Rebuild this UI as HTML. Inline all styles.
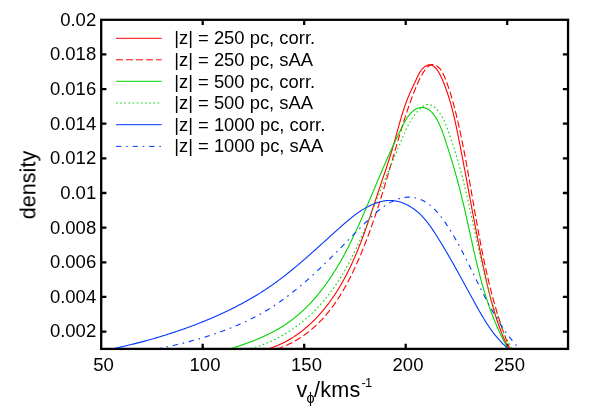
<!DOCTYPE html>
<html lang="en"><head><meta charset="utf-8"><title>density vs v_phi</title>
<style>html,body{margin:0;padding:0;background:#fff;}svg{display:block;}text{font-family:"Liberation Sans","DejaVu Sans",sans-serif;fill:#000;}</style></head><body>
<svg width="598" height="419" viewBox="0 0 598 419">
<rect width="598" height="419" fill="#fff"/>
<g stroke="#000" stroke-width="2.3" fill="none" stroke-linecap="butt">
<rect x="101.2" y="19.8" width="466.85" height="329.10" stroke-width="2.3"/>
<path d="M202.7,348.9 v-5.2 M202.7,19.8 v5.2 M304.2,348.9 v-5.2 M304.2,19.8 v5.2 M405.7,348.9 v-5.2 M405.7,19.8 v5.2 M507.2,348.9 v-5.2 M507.2,19.8 v5.2 M101.2,331.6 h5.2 M568.05,331.6 h-5.2 M101.2,296.9 h5.2 M568.05,296.9 h-5.2 M101.2,262.3 h5.2 M568.05,262.3 h-5.2 M101.2,227.7 h5.2 M568.05,227.7 h-5.2 M101.2,193.0 h5.2 M568.05,193.0 h-5.2 M101.2,158.4 h5.2 M568.05,158.4 h-5.2 M101.2,123.7 h5.2 M568.05,123.7 h-5.2 M101.2,89.1 h5.2 M568.05,89.1 h-5.2 M101.2,54.4 h5.2 M568.05,54.4 h-5.2"/>
</g>
<clipPath id="plotclip"><rect x="101.2" y="19.8" width="466.85" height="328.30"/></clipPath>
<g fill="none" stroke-width="1.1" stroke-linejoin="round" clip-path="url(#plotclip)">
<path d="M267.50,349.00 L268.47,348.71 L269.44,348.41 L270.40,348.10 L271.36,347.79 L272.32,347.46 L273.27,347.12 L274.21,346.78 L275.15,346.42 L276.09,346.05 L277.02,345.68 L277.94,345.29 L278.86,344.90 L279.78,344.49 L280.69,344.08 L281.59,343.66 L282.49,343.23 L283.39,342.79 L284.28,342.34 L285.17,341.89 L286.05,341.42 L286.92,340.95 L287.80,340.47 L288.66,339.98 L289.52,339.48 L290.38,338.97 L291.23,338.46 L292.08,337.93 L292.92,337.40 L293.76,336.87 L294.59,336.32 L295.42,335.77 L296.24,335.21 L297.06,334.64 L297.88,334.06 L298.69,333.48 L299.49,332.89 L300.29,332.30 L301.08,331.70 L301.87,331.09 L302.66,330.47 L303.44,329.85 L304.21,329.22 L304.98,328.58 L305.74,327.94 L306.50,327.29 L307.26,326.64 L308.01,325.98 L308.76,325.31 L309.50,324.64 L310.23,323.96 L310.96,323.28 L311.69,322.59 L312.41,321.89 L313.13,321.19 L313.84,320.49 L314.55,319.78 L315.25,319.06 L315.95,318.34 L316.64,317.62 L317.33,316.89 L318.01,316.15 L318.69,315.41 L319.36,314.67 L320.03,313.92 L320.70,313.17 L321.35,312.41 L322.01,311.65 L322.66,310.88 L323.30,310.11 L323.94,309.34 L324.58,308.56 L325.21,307.78 L325.83,307.00 L326.45,306.21 L327.07,305.42 L327.68,304.62 L328.28,303.83 L328.88,303.03 L329.48,302.22 L330.07,301.41 L330.66,300.60 L331.24,299.79 L331.82,298.98 L332.39,298.16 L332.96,297.34 L333.52,296.51 L334.08,295.69 L334.63,294.86 L335.18,294.03 L335.73,293.19 L336.27,292.36 L336.80,291.52 L337.34,290.68 L337.86,289.83 L338.39,288.99 L338.91,288.14 L339.42,287.29 L339.93,286.43 L340.44,285.58 L340.94,284.72 L341.44,283.86 L341.94,283.00 L342.43,282.13 L342.91,281.27 L343.40,280.40 L343.88,279.53 L344.35,278.65 L344.82,277.78 L345.29,276.90 L345.76,276.02 L346.22,275.14 L346.68,274.26 L347.13,273.37 L347.58,272.49 L348.03,271.60 L348.47,270.71 L348.91,269.81 L349.35,268.92 L349.79,268.02 L350.22,267.13 L350.64,266.23 L351.07,265.32 L351.49,264.42 L351.91,263.52 L352.33,262.61 L352.74,261.70 L353.15,260.79 L353.56,259.88 L353.96,258.97 L354.36,258.06 L354.76,257.14 L355.16,256.23 L355.55,255.31 L355.94,254.39 L356.33,253.47 L356.72,252.55 L357.10,251.62 L357.48,250.70 L357.86,249.77 L358.24,248.85 L358.61,247.92 L358.98,246.99 L359.35,246.06 L359.72,245.13 L360.09,244.20 L360.45,243.26 L360.81,242.33 L361.17,241.39 L361.53,240.46 L361.88,239.52 L362.24,238.58 L362.59,237.64 L362.94,236.70 L363.29,235.76 L363.64,234.82 L363.98,233.88 L364.32,232.94 L364.67,231.99 L365.01,231.05 L365.35,230.10 L365.68,229.16 L366.02,228.21 L366.35,227.26 L366.69,226.32 L367.02,225.37 L367.35,224.42 L367.68,223.47 L368.01,222.52 L368.34,221.58 L368.67,220.63 L368.99,219.68 L369.32,218.73 L369.64,217.77 L369.96,216.82 L370.29,215.87 L370.61,214.92 L370.93,213.97 L371.25,213.02 L371.57,212.07 L371.89,211.11 L372.20,210.16 L372.52,209.21 L372.84,208.26 L373.16,207.31 L373.47,206.35 L373.79,205.40 L374.10,204.45 L374.42,203.50 L374.73,202.55 L375.05,201.60 L375.36,200.64 L375.68,199.69 L375.99,198.74 L376.31,197.79 L376.62,196.84 L376.94,195.89 L377.25,194.94 L377.57,194.00 L377.88,193.05 L378.20,192.10 L378.51,191.15 L378.83,190.20 L379.15,189.26 L379.46,188.31 L379.78,187.37 L380.10,186.42 L380.42,185.48 L380.74,184.53 L381.05,183.59 L381.37,182.65 L381.69,181.70 L382.01,180.76 L382.33,179.82 L382.65,178.88 L382.97,177.94 L383.29,177.00 L383.61,176.05 L383.93,175.11 L384.24,174.17 L384.56,173.23 L384.88,172.29 L385.20,171.35 L385.51,170.41 L385.83,169.46 L386.14,168.52 L386.46,167.58 L386.77,166.64 L387.08,165.69 L387.39,164.75 L387.70,163.81 L388.01,162.86 L388.32,161.92 L388.63,160.97 L388.93,160.02 L389.23,159.08 L389.54,158.13 L389.84,157.18 L390.14,156.23 L390.44,155.28 L390.73,154.33 L391.03,153.38 L391.32,152.42 L391.61,151.47 L391.90,150.51 L392.19,149.56 L392.47,148.60 L392.76,147.64 L393.04,146.68 L393.32,145.72 L393.59,144.75 L393.87,143.79 L394.14,142.83 L394.41,141.86 L394.68,140.89 L394.95,139.92 L395.22,138.96 L395.49,137.99 L395.75,137.02 L396.02,136.05 L396.28,135.08 L396.55,134.11 L396.81,133.13 L397.08,132.16 L397.34,131.19 L397.61,130.22 L397.87,129.25 L398.14,128.28 L398.41,127.31 L398.67,126.34 L398.94,125.37 L399.21,124.40 L399.48,123.43 L399.76,122.46 L400.03,121.50 L400.31,120.53 L400.59,119.57 L400.87,118.60 L401.15,117.64 L401.44,116.68 L401.72,115.72 L402.02,114.76 L402.31,113.80 L402.61,112.85 L402.91,111.90 L403.21,110.94 L403.52,109.99 L403.83,109.05 L404.14,108.10 L404.46,107.16 L404.79,106.21 L405.11,105.28 L405.45,104.34 L405.78,103.40 L406.12,102.47 L406.47,101.54 L406.82,100.62 L407.18,99.69 L407.54,98.77 L407.91,97.85 L408.28,96.94 L408.66,96.03 L409.05,95.12 L409.44,94.21 L409.83,93.31 L410.23,92.40 L410.64,91.50 L411.04,90.60 L411.46,89.70 L411.87,88.80 L412.29,87.90 L412.71,87.00 L413.13,86.10 L413.55,85.20 L413.98,84.29 L414.40,83.39 L414.83,82.48 L415.26,81.57 L415.68,80.66 L416.11,79.74 L416.54,78.82 L416.96,77.89 L417.39,76.97 L417.83,76.05 L418.28,75.14 L418.75,74.24 L419.23,73.35 L419.74,72.48 L420.28,71.63 L420.84,70.80 L421.44,70.01 L422.07,69.24 L422.75,68.50 L423.47,67.81 L424.25,67.15 L425.07,66.54 L425.95,65.98 L426.86,65.49 L427.81,65.10 L428.76,64.84 L429.71,64.73 L430.64,64.80 L431.53,65.06 L432.39,65.47 L433.21,66.00 L433.99,66.61 L434.73,67.26 L435.44,67.95 L436.10,68.68 L436.73,69.43 L437.33,70.22 L437.90,71.03 L438.44,71.87 L438.95,72.72 L439.45,73.60 L439.92,74.49 L440.38,75.40 L440.82,76.31 L441.25,77.23 L441.67,78.16 L442.08,79.09 L442.48,80.03 L442.88,80.96 L443.27,81.90 L443.65,82.83 L444.03,83.77 L444.40,84.71 L444.77,85.65 L445.13,86.59 L445.48,87.53 L445.83,88.48 L446.18,89.42 L446.51,90.37 L446.85,91.31 L447.17,92.26 L447.50,93.21 L447.81,94.16 L448.13,95.11 L448.43,96.06 L448.74,97.02 L449.04,97.97 L449.33,98.92 L449.62,99.88 L449.90,100.84 L450.18,101.79 L450.46,102.75 L450.73,103.71 L451.00,104.67 L451.27,105.63 L451.53,106.59 L451.78,107.55 L452.04,108.52 L452.29,109.48 L452.53,110.45 L452.78,111.41 L453.02,112.38 L453.26,113.34 L453.49,114.31 L453.72,115.28 L453.95,116.25 L454.18,117.21 L454.40,118.18 L454.62,119.15 L454.84,120.12 L455.06,121.09 L455.28,122.07 L455.49,123.04 L455.70,124.01 L455.91,124.98 L456.12,125.96 L456.32,126.93 L456.53,127.90 L456.73,128.88 L456.93,129.85 L457.13,130.83 L457.33,131.80 L457.53,132.78 L457.73,133.76 L457.92,134.73 L458.12,135.71 L458.32,136.69 L458.51,137.66 L458.70,138.64 L458.90,139.62 L459.09,140.60 L459.29,141.57 L459.48,142.55 L459.67,143.53 L459.86,144.51 L460.05,145.49 L460.24,146.47 L460.44,147.45 L460.63,148.42 L460.82,149.40 L461.01,150.38 L461.19,151.36 L461.38,152.34 L461.57,153.32 L461.76,154.30 L461.95,155.28 L462.14,156.26 L462.32,157.25 L462.51,158.23 L462.70,159.21 L462.88,160.19 L463.07,161.17 L463.26,162.15 L463.44,163.13 L463.63,164.11 L463.81,165.10 L464.00,166.08 L464.18,167.06 L464.37,168.04 L464.55,169.02 L464.73,170.01 L464.92,170.99 L465.10,171.97 L465.29,172.95 L465.47,173.94 L465.65,174.92 L465.84,175.90 L466.02,176.89 L466.20,177.87 L466.39,178.85 L466.57,179.83 L466.75,180.82 L466.93,181.80 L467.12,182.78 L467.30,183.77 L467.48,184.75 L467.66,185.74 L467.85,186.72 L468.03,187.70 L468.21,188.69 L468.39,189.67 L468.57,190.65 L468.76,191.64 L468.94,192.62 L469.12,193.61 L469.30,194.59 L469.49,195.57 L469.67,196.56 L469.85,197.54 L470.03,198.52 L470.21,199.51 L470.40,200.49 L470.58,201.48 L470.76,202.46 L470.95,203.44 L471.13,204.43 L471.31,205.41 L471.49,206.40 L471.68,207.38 L471.86,208.36 L472.04,209.35 L472.23,210.33 L472.41,211.32 L472.60,212.30 L472.78,213.28 L472.96,214.27 L473.15,215.25 L473.33,216.23 L473.52,217.22 L473.70,218.20 L473.89,219.18 L474.08,220.17 L474.26,221.15 L474.45,222.13 L474.63,223.12 L474.82,224.10 L475.01,225.08 L475.20,226.07 L475.38,227.05 L475.57,228.03 L475.76,229.01 L475.95,230.00 L476.14,230.98 L476.33,231.96 L476.52,232.94 L476.71,233.93 L476.90,234.91 L477.09,235.89 L477.28,236.87 L477.47,237.85 L477.66,238.84 L477.85,239.82 L478.05,240.80 L478.24,241.78 L478.43,242.76 L478.63,243.74 L478.82,244.72 L479.02,245.70 L479.21,246.68 L479.41,247.66 L479.60,248.64 L479.80,249.62 L480.00,250.60 L480.20,251.58 L480.39,252.56 L480.59,253.54 L480.79,254.52 L480.99,255.50 L481.19,256.48 L481.39,257.46 L481.60,258.43 L481.80,259.41 L482.00,260.39 L482.20,261.37 L482.41,262.35 L482.61,263.32 L482.82,264.30 L483.02,265.28 L483.23,266.25 L483.44,267.23 L483.64,268.21 L483.85,269.18 L484.06,270.16 L484.27,271.13 L484.48,272.11 L484.69,273.08 L484.91,274.06 L485.12,275.03 L485.33,276.01 L485.55,276.98 L485.76,277.96 L485.98,278.93 L486.19,279.90 L486.41,280.88 L486.63,281.85 L486.85,282.82 L487.07,283.79 L487.29,284.76 L487.52,285.73 L487.74,286.70 L487.97,287.67 L488.20,288.64 L488.43,289.61 L488.66,290.58 L488.89,291.55 L489.13,292.52 L489.37,293.49 L489.60,294.45 L489.84,295.42 L490.09,296.38 L490.33,297.35 L490.58,298.31 L490.83,299.27 L491.08,300.24 L491.33,301.20 L491.59,302.16 L491.85,303.12 L492.11,304.08 L492.37,305.04 L492.64,306.00 L492.91,306.96 L493.18,307.91 L493.46,308.87 L493.73,309.83 L494.01,310.78 L494.30,311.73 L494.58,312.69 L494.87,313.64 L495.17,314.59 L495.46,315.54 L495.76,316.49 L496.07,317.44 L496.37,318.38 L496.68,319.33 L497.00,320.28 L497.31,321.22 L497.63,322.16 L497.96,323.11 L498.29,324.05 L498.62,324.99 L498.95,325.93 L499.29,326.86 L499.64,327.80 L499.99,328.74 L500.34,329.67 L500.70,330.60 L501.06,331.54 L501.42,332.47 L501.79,333.40 L502.17,334.32 L502.55,335.25 L502.93,336.18 L503.32,337.10 L503.71,338.02 L504.11,338.95 L504.51,339.87 L504.92,340.79 L505.33,341.70 L505.75,342.62 L506.17,343.54 L506.60,344.45 L507.03,345.36 L507.47,346.27 L507.92,347.18 L508.36,348.09 L508.82,349.00" stroke="#ff0000"/>
<path d="M276.97,349.00 L277.98,348.66 L278.98,348.30 L279.98,347.94 L280.96,347.57 L281.94,347.19 L282.92,346.80 L283.88,346.41 L284.84,346.00 L285.79,345.59 L286.74,345.17 L287.68,344.74 L288.61,344.30 L289.53,343.85 L290.45,343.40 L291.36,342.94 L292.26,342.47 L293.16,342.00 L294.05,341.51 L294.93,341.02 L295.81,340.52 L296.67,340.01 L297.54,339.50 L298.39,338.98 L299.24,338.45 L300.09,337.91 L300.92,337.37 L301.75,336.82 L302.58,336.27 L303.39,335.70 L304.21,335.13 L305.01,334.55 L305.81,333.97 L306.60,333.38 L307.39,332.78 L308.17,332.18 L308.94,331.57 L309.71,330.95 L310.47,330.33 L311.23,329.70 L311.98,329.06 L312.73,328.42 L313.47,327.77 L314.20,327.12 L314.93,326.46 L315.65,325.79 L316.37,325.12 L317.08,324.45 L317.78,323.76 L318.48,323.07 L319.18,322.38 L319.87,321.68 L320.55,320.98 L321.23,320.27 L321.90,319.55 L322.57,318.83 L323.23,318.10 L323.89,317.37 L324.54,316.64 L325.19,315.89 L325.83,315.15 L326.47,314.40 L327.10,313.64 L327.72,312.88 L328.35,312.12 L328.96,311.35 L329.58,310.57 L330.18,309.79 L330.79,309.01 L331.39,308.22 L331.98,307.43 L332.57,306.64 L333.15,305.84 L333.73,305.03 L334.31,304.23 L334.88,303.41 L335.45,302.60 L336.01,301.78 L336.57,300.96 L337.12,300.13 L337.67,299.30 L338.22,298.47 L338.76,297.63 L339.30,296.79 L339.83,295.94 L340.36,295.10 L340.88,294.24 L341.40,293.39 L341.92,292.53 L342.43,291.67 L342.94,290.81 L343.45,289.95 L343.95,289.08 L344.45,288.21 L344.94,287.33 L345.44,286.45 L345.92,285.58 L346.41,284.69 L346.89,283.81 L347.36,282.92 L347.84,282.03 L348.31,281.14 L348.78,280.25 L349.24,279.35 L349.70,278.46 L350.16,277.56 L350.61,276.66 L351.06,275.75 L351.51,274.85 L351.95,273.94 L352.40,273.03 L352.84,272.12 L353.27,271.21 L353.70,270.30 L354.13,269.38 L354.56,268.47 L354.99,267.55 L355.41,266.63 L355.83,265.71 L356.24,264.79 L356.66,263.87 L357.07,262.95 L357.48,262.03 L357.89,261.10 L358.29,260.18 L358.69,259.25 L359.09,258.33 L359.49,257.40 L359.88,256.47 L360.28,255.55 L360.67,254.62 L361.05,253.69 L361.44,252.76 L361.82,251.83 L362.21,250.90 L362.59,249.97 L362.96,249.04 L363.34,248.11 L363.71,247.18 L364.08,246.25 L364.45,245.32 L364.82,244.38 L365.19,243.45 L365.55,242.52 L365.91,241.58 L366.27,240.65 L366.63,239.72 L366.99,238.78 L367.34,237.85 L367.69,236.91 L368.04,235.97 L368.39,235.04 L368.74,234.10 L369.09,233.16 L369.43,232.23 L369.77,231.29 L370.11,230.35 L370.45,229.41 L370.79,228.47 L371.12,227.53 L371.46,226.59 L371.79,225.65 L372.12,224.71 L372.45,223.77 L372.78,222.83 L373.11,221.89 L373.43,220.94 L373.76,220.00 L374.08,219.06 L374.40,218.12 L374.72,217.17 L375.04,216.23 L375.36,215.29 L375.67,214.34 L375.99,213.40 L376.30,212.45 L376.61,211.51 L376.92,210.56 L377.23,209.61 L377.54,208.67 L377.85,207.72 L378.16,206.77 L378.46,205.83 L378.77,204.88 L379.07,203.93 L379.37,202.98 L379.67,202.03 L379.97,201.09 L380.27,200.14 L380.57,199.19 L380.87,198.24 L381.17,197.29 L381.46,196.34 L381.76,195.39 L382.05,194.44 L382.34,193.49 L382.64,192.53 L382.93,191.58 L383.22,190.63 L383.51,189.68 L383.80,188.73 L384.09,187.77 L384.38,186.82 L384.67,185.87 L384.95,184.91 L385.24,183.96 L385.53,183.01 L385.81,182.05 L386.10,181.10 L386.38,180.14 L386.66,179.19 L386.95,178.23 L387.23,177.28 L387.51,176.32 L387.80,175.37 L388.08,174.41 L388.36,173.46 L388.64,172.50 L388.92,171.54 L389.20,170.59 L389.48,169.63 L389.76,168.67 L390.04,167.71 L390.32,166.76 L390.60,165.80 L390.88,164.84 L391.16,163.88 L391.44,162.92 L391.72,161.96 L392.00,161.01 L392.28,160.05 L392.56,159.09 L392.84,158.13 L393.12,157.17 L393.39,156.21 L393.67,155.25 L393.95,154.29 L394.23,153.33 L394.51,152.37 L394.79,151.41 L395.07,150.45 L395.35,149.49 L395.63,148.52 L395.91,147.56 L396.19,146.60 L396.47,145.64 L396.76,144.68 L397.04,143.72 L397.32,142.76 L397.60,141.79 L397.88,140.83 L398.17,139.87 L398.45,138.91 L398.74,137.95 L399.02,136.98 L399.31,136.02 L399.60,135.06 L399.88,134.10 L400.17,133.14 L400.46,132.18 L400.75,131.22 L401.04,130.26 L401.33,129.30 L401.63,128.34 L401.92,127.38 L402.22,126.42 L402.51,125.46 L402.81,124.50 L403.11,123.54 L403.41,122.59 L403.71,121.63 L404.01,120.67 L404.32,119.72 L404.62,118.76 L404.93,117.81 L405.24,116.86 L405.54,115.90 L405.86,114.95 L406.17,114.00 L406.48,113.05 L406.80,112.10 L407.12,111.15 L407.44,110.20 L407.76,109.25 L408.08,108.31 L408.41,107.36 L408.74,106.42 L409.06,105.47 L409.40,104.53 L409.73,103.59 L410.07,102.65 L410.40,101.71 L410.74,100.77 L411.08,99.84 L411.43,98.90 L411.78,97.97 L412.12,97.03 L412.48,96.10 L412.83,95.17 L413.19,94.24 L413.54,93.31 L413.91,92.38 L414.27,91.46 L414.64,90.54 L415.01,89.61 L415.38,88.69 L415.75,87.77 L416.13,86.85 L416.51,85.94 L416.90,85.02 L417.29,84.11 L417.69,83.20 L418.10,82.30 L418.51,81.40 L418.93,80.50 L419.36,79.60 L419.80,78.71 L420.26,77.82 L420.72,76.94 L421.20,76.06 L421.68,75.18 L422.19,74.31 L422.70,73.45 L423.24,72.59 L423.79,71.74 L424.35,70.89 L424.93,70.05 L425.54,69.23 L426.18,68.43 L426.85,67.67 L427.57,66.96 L428.33,66.31 L429.15,65.73 L430.04,65.24 L430.97,64.87 L431.93,64.65 L432.91,64.62 L433.90,64.78 L434.87,65.09 L435.79,65.49 L436.66,65.96 L437.48,66.50 L438.24,67.09 L438.95,67.73 L439.62,68.42 L440.25,69.16 L440.84,69.93 L441.40,70.74 L441.92,71.58 L442.42,72.46 L442.89,73.35 L443.34,74.26 L443.77,75.19 L444.18,76.13 L444.58,77.08 L444.97,78.04 L445.36,78.99 L445.74,79.94 L446.11,80.89 L446.48,81.85 L446.84,82.80 L447.19,83.75 L447.54,84.71 L447.88,85.66 L448.22,86.62 L448.55,87.57 L448.88,88.53 L449.20,89.48 L449.52,90.44 L449.83,91.39 L450.13,92.35 L450.44,93.30 L450.73,94.26 L451.03,95.22 L451.32,96.17 L451.60,97.13 L451.88,98.09 L452.16,99.05 L452.43,100.01 L452.70,100.97 L452.97,101.93 L453.23,102.89 L453.49,103.85 L453.75,104.81 L454.00,105.77 L454.25,106.73 L454.50,107.69 L454.75,108.65 L454.99,109.62 L455.23,110.58 L455.47,111.54 L455.71,112.51 L455.95,113.47 L456.18,114.44 L456.41,115.40 L456.64,116.37 L456.87,117.34 L457.10,118.30 L457.33,119.27 L457.55,120.24 L457.78,121.21 L458.00,122.18 L458.22,123.15 L458.44,124.12 L458.66,125.09 L458.87,126.06 L459.09,127.03 L459.31,128.00 L459.52,128.97 L459.73,129.95 L459.94,130.92 L460.15,131.89 L460.36,132.87 L460.57,133.84 L460.77,134.81 L460.98,135.79 L461.18,136.77 L461.39,137.74 L461.59,138.72 L461.79,139.69 L461.99,140.67 L462.19,141.65 L462.39,142.63 L462.58,143.60 L462.78,144.58 L462.97,145.56 L463.17,146.54 L463.36,147.52 L463.55,148.50 L463.75,149.48 L463.94,150.46 L464.13,151.44 L464.32,152.42 L464.50,153.40 L464.69,154.38 L464.88,155.36 L465.06,156.35 L465.25,157.33 L465.43,158.31 L465.62,159.29 L465.80,160.28 L465.98,161.26 L466.16,162.24 L466.34,163.23 L466.53,164.21 L466.71,165.20 L466.88,166.18 L467.06,167.17 L467.24,168.15 L467.42,169.14 L467.60,170.12 L467.77,171.11 L467.95,172.09 L468.13,173.08 L468.30,174.06 L468.48,175.05 L468.65,176.04 L468.82,177.02 L469.00,178.01 L469.17,179.00 L469.35,179.98 L469.52,180.97 L469.69,181.96 L469.86,182.94 L470.03,183.93 L470.21,184.92 L470.38,185.91 L470.55,186.90 L470.72,187.88 L470.89,188.87 L471.06,189.86 L471.23,190.85 L471.40,191.84 L471.57,192.82 L471.74,193.81 L471.91,194.80 L472.08,195.79 L472.26,196.78 L472.43,197.77 L472.60,198.76 L472.77,199.74 L472.94,200.73 L473.11,201.72 L473.28,202.71 L473.45,203.70 L473.62,204.69 L473.79,205.68 L473.96,206.67 L474.13,207.65 L474.30,208.64 L474.47,209.63 L474.64,210.62 L474.82,211.61 L474.99,212.60 L475.16,213.59 L475.33,214.58 L475.51,215.56 L475.68,216.55 L475.85,217.54 L476.03,218.53 L476.20,219.52 L476.37,220.51 L476.55,221.49 L476.72,222.48 L476.90,223.47 L477.08,224.46 L477.25,225.44 L477.43,226.43 L477.61,227.42 L477.79,228.41 L477.97,229.39 L478.15,230.38 L478.33,231.37 L478.51,232.35 L478.69,233.34 L478.87,234.33 L479.05,235.31 L479.23,236.30 L479.42,237.29 L479.60,238.27 L479.79,239.26 L479.97,240.24 L480.16,241.23 L480.35,242.21 L480.54,243.20 L480.72,244.18 L480.91,245.17 L481.11,246.15 L481.30,247.13 L481.49,248.12 L481.68,249.10 L481.88,250.08 L482.07,251.07 L482.27,252.05 L482.46,253.03 L482.66,254.01 L482.86,255.00 L483.06,255.98 L483.26,256.96 L483.46,257.94 L483.67,258.92 L483.87,259.90 L484.08,260.88 L484.28,261.86 L484.49,262.84 L484.70,263.82 L484.91,264.80 L485.12,265.78 L485.33,266.76 L485.55,267.73 L485.76,268.71 L485.98,269.69 L486.19,270.66 L486.41,271.64 L486.63,272.62 L486.85,273.59 L487.08,274.57 L487.30,275.54 L487.52,276.52 L487.75,277.49 L487.98,278.46 L488.21,279.44 L488.44,280.41 L488.67,281.38 L488.91,282.35 L489.14,283.33 L489.38,284.30 L489.62,285.27 L489.86,286.24 L490.10,287.21 L490.34,288.18 L490.59,289.15 L490.83,290.11 L491.08,291.08 L491.33,292.05 L491.58,293.02 L491.83,293.98 L492.09,294.95 L492.34,295.91 L492.60,296.88 L492.86,297.84 L493.12,298.81 L493.39,299.77 L493.65,300.73 L493.92,301.70 L494.19,302.66 L494.46,303.62 L494.73,304.58 L495.01,305.54 L495.28,306.50 L495.56,307.46 L495.84,308.42 L496.12,309.37 L496.41,310.33 L496.69,311.29 L496.98,312.24 L497.27,313.20 L497.56,314.15 L497.86,315.11 L498.16,316.06 L498.45,317.01 L498.76,317.97 L499.06,318.92 L499.36,319.87 L499.67,320.82 L499.98,321.77 L500.29,322.72 L500.61,323.67 L500.92,324.61 L501.24,325.56 L501.56,326.51 L501.88,327.45 L502.21,328.40 L502.54,329.34 L502.87,330.29 L503.20,331.23 L503.53,332.17 L503.87,333.11 L504.21,334.05 L504.55,334.99 L504.90,335.93 L505.24,336.87 L505.59,337.81 L505.94,338.75 L506.30,339.68 L506.66,340.62 L507.02,341.55 L507.38,342.49 L507.74,343.42 L508.11,344.35 L508.48,345.28 L508.85,346.22 L509.23,347.15 L509.61,348.07 L509.99,349.00" stroke="#ff0000" stroke-dasharray="7 3" stroke-dashoffset="0.3"/>
<path d="M229.50,349.00 L230.44,348.71 L231.38,348.42 L232.32,348.13 L233.26,347.83 L234.20,347.53 L235.14,347.23 L236.08,346.93 L237.03,346.62 L237.97,346.31 L238.92,346.00 L239.86,345.68 L240.81,345.36 L241.75,345.04 L242.70,344.71 L243.64,344.38 L244.59,344.05 L245.53,343.72 L246.48,343.38 L247.42,343.03 L248.37,342.69 L249.31,342.34 L250.25,341.98 L251.19,341.63 L252.13,341.26 L253.07,340.90 L254.01,340.53 L254.95,340.16 L255.89,339.78 L256.82,339.40 L257.75,339.01 L258.69,338.62 L259.61,338.23 L260.54,337.83 L261.47,337.42 L262.39,337.01 L263.31,336.60 L264.23,336.18 L265.15,335.76 L266.06,335.33 L266.98,334.90 L267.88,334.46 L268.79,334.02 L269.69,333.57 L270.59,333.12 L271.49,332.66 L272.39,332.20 L273.28,331.73 L274.16,331.26 L275.05,330.78 L275.93,330.29 L276.80,329.80 L277.68,329.31 L278.55,328.81 L279.41,328.30 L280.27,327.78 L281.13,327.27 L281.98,326.74 L282.83,326.21 L283.67,325.67 L284.51,325.13 L285.34,324.58 L286.17,324.02 L287.00,323.46 L287.82,322.89 L288.63,322.32 L289.44,321.74 L290.25,321.15 L291.05,320.56 L291.84,319.96 L292.63,319.35 L293.42,318.75 L294.20,318.13 L294.98,317.51 L295.75,316.88 L296.52,316.25 L297.29,315.61 L298.04,314.97 L298.80,314.32 L299.55,313.67 L300.30,313.01 L301.04,312.35 L301.77,311.68 L302.51,311.01 L303.24,310.33 L303.96,309.64 L304.68,308.96 L305.39,308.26 L306.11,307.57 L306.81,306.86 L307.51,306.16 L308.21,305.45 L308.91,304.73 L309.60,304.01 L310.28,303.28 L310.96,302.56 L311.64,301.82 L312.31,301.09 L312.98,300.35 L313.65,299.60 L314.31,298.85 L314.97,298.10 L315.62,297.34 L316.27,296.58 L316.91,295.82 L317.55,295.05 L318.19,294.28 L318.82,293.50 L319.45,292.72 L320.08,291.94 L320.70,291.16 L321.32,290.37 L321.93,289.58 L322.54,288.78 L323.15,287.98 L323.75,287.18 L324.35,286.38 L324.94,285.57 L325.53,284.76 L326.12,283.95 L326.71,283.13 L327.29,282.31 L327.86,281.49 L328.44,280.67 L329.00,279.84 L329.57,279.01 L330.13,278.18 L330.69,277.35 L331.25,276.51 L331.80,275.68 L332.35,274.84 L332.89,273.99 L333.43,273.15 L333.97,272.30 L334.50,271.46 L335.04,270.61 L335.56,269.75 L336.09,268.90 L336.61,268.05 L337.13,267.19 L337.64,266.33 L338.15,265.47 L338.66,264.61 L339.17,263.74 L339.67,262.88 L340.17,262.01 L340.66,261.14 L341.16,260.28 L341.65,259.40 L342.13,258.53 L342.62,257.66 L343.10,256.78 L343.58,255.90 L344.06,255.03 L344.53,254.15 L345.00,253.26 L345.47,252.38 L345.94,251.50 L346.40,250.61 L346.86,249.73 L347.32,248.84 L347.78,247.95 L348.24,247.06 L348.69,246.17 L349.14,245.28 L349.59,244.38 L350.03,243.49 L350.48,242.59 L350.92,241.69 L351.36,240.80 L351.79,239.90 L352.23,239.00 L352.66,238.10 L353.10,237.19 L353.53,236.29 L353.95,235.39 L354.38,234.48 L354.81,233.58 L355.23,232.67 L355.65,231.76 L356.07,230.86 L356.49,229.95 L356.91,229.04 L357.32,228.13 L357.74,227.22 L358.15,226.30 L358.56,225.39 L358.97,224.48 L359.38,223.56 L359.79,222.65 L360.20,221.74 L360.60,220.82 L361.01,219.90 L361.41,218.99 L361.81,218.07 L362.22,217.15 L362.62,216.24 L363.02,215.32 L363.42,214.40 L363.81,213.48 L364.21,212.56 L364.61,211.64 L365.00,210.72 L365.40,209.80 L365.80,208.88 L366.19,207.96 L366.58,207.04 L366.98,206.12 L367.37,205.19 L367.76,204.27 L368.16,203.35 L368.55,202.43 L368.94,201.51 L369.33,200.58 L369.72,199.66 L370.11,198.74 L370.50,197.82 L370.89,196.89 L371.28,195.97 L371.67,195.05 L372.06,194.13 L372.45,193.20 L372.84,192.28 L373.23,191.36 L373.62,190.44 L374.01,189.51 L374.40,188.59 L374.79,187.67 L375.18,186.74 L375.57,185.82 L375.96,184.90 L376.35,183.98 L376.74,183.06 L377.13,182.13 L377.52,181.21 L377.91,180.29 L378.30,179.37 L378.69,178.45 L379.08,177.53 L379.47,176.61 L379.86,175.68 L380.26,174.76 L380.65,173.84 L381.04,172.92 L381.44,172.00 L381.83,171.09 L382.23,170.17 L382.62,169.25 L383.02,168.33 L383.41,167.41 L383.81,166.49 L384.21,165.58 L384.61,164.66 L385.00,163.74 L385.40,162.83 L385.80,161.91 L386.21,161.00 L386.61,160.08 L387.01,159.17 L387.41,158.26 L387.82,157.34 L388.22,156.43 L388.63,155.52 L389.04,154.61 L389.44,153.70 L389.85,152.79 L390.26,151.88 L390.67,150.97 L391.09,150.06 L391.50,149.15 L391.91,148.24 L392.33,147.34 L392.74,146.43 L393.16,145.53 L393.58,144.62 L394.00,143.72 L394.42,142.82 L394.84,141.91 L395.27,141.01 L395.69,140.11 L396.12,139.21 L396.55,138.31 L396.98,137.41 L397.41,136.52 L397.84,135.62 L398.27,134.72 L398.71,133.83 L399.14,132.93 L399.58,132.04 L400.02,131.15 L400.46,130.26 L400.91,129.37 L401.35,128.48 L401.80,127.59 L402.25,126.70 L402.70,125.81 L403.15,124.93 L403.60,124.04 L404.06,123.16 L404.52,122.28 L405.00,121.41 L405.48,120.54 L405.98,119.68 L406.50,118.82 L407.04,117.98 L407.60,117.14 L408.18,116.32 L408.80,115.50 L409.44,114.71 L410.11,113.92 L410.82,113.15 L411.56,112.41 L412.34,111.70 L413.13,111.02 L413.96,110.38 L414.81,109.78 L415.67,109.24 L416.56,108.76 L417.46,108.35 L418.37,108.00 L419.30,107.74 L420.23,107.55 L421.18,107.46 L422.12,107.45 L423.06,107.52 L424.00,107.67 L424.93,107.90 L425.85,108.20 L426.75,108.57 L427.63,109.01 L428.48,109.51 L429.31,110.07 L430.11,110.69 L430.87,111.36 L431.60,112.07 L432.30,112.83 L432.98,113.62 L433.62,114.44 L434.24,115.28 L434.83,116.14 L435.40,117.01 L435.96,117.88 L436.49,118.76 L437.00,119.64 L437.49,120.53 L437.97,121.42 L438.42,122.32 L438.87,123.22 L439.30,124.13 L439.71,125.03 L440.11,125.95 L440.50,126.86 L440.88,127.78 L441.25,128.70 L441.61,129.63 L441.96,130.55 L442.30,131.48 L442.64,132.41 L442.97,133.35 L443.30,134.28 L443.62,135.22 L443.94,136.15 L444.25,137.09 L444.57,138.03 L444.88,138.97 L445.20,139.91 L445.51,140.85 L445.82,141.79 L446.13,142.73 L446.44,143.67 L446.75,144.62 L447.06,145.56 L447.36,146.51 L447.67,147.45 L447.97,148.40 L448.27,149.34 L448.57,150.29 L448.87,151.24 L449.17,152.19 L449.47,153.13 L449.77,154.08 L450.06,155.03 L450.36,155.98 L450.65,156.94 L450.94,157.89 L451.23,158.84 L451.52,159.79 L451.81,160.75 L452.10,161.70 L452.38,162.66 L452.67,163.61 L452.95,164.57 L453.24,165.53 L453.52,166.48 L453.80,167.44 L454.07,168.40 L454.35,169.36 L454.63,170.32 L454.90,171.28 L455.18,172.24 L455.45,173.20 L455.72,174.16 L455.99,175.12 L456.26,176.09 L456.52,177.05 L456.79,178.02 L457.05,178.98 L457.32,179.94 L457.58,180.91 L457.84,181.88 L458.10,182.84 L458.35,183.81 L458.61,184.78 L458.87,185.75 L459.12,186.71 L459.37,187.68 L459.62,188.65 L459.87,189.62 L460.12,190.59 L460.37,191.56 L460.61,192.54 L460.86,193.51 L461.10,194.48 L461.34,195.45 L461.58,196.43 L461.82,197.40 L462.06,198.38 L462.29,199.35 L462.53,200.33 L462.76,201.30 L462.99,202.28 L463.22,203.25 L463.45,204.23 L463.68,205.21 L463.91,206.18 L464.14,207.16 L464.36,208.14 L464.59,209.12 L464.81,210.10 L465.04,211.07 L465.26,212.05 L465.48,213.03 L465.70,214.01 L465.92,214.99 L466.14,215.97 L466.36,216.95 L466.58,217.93 L466.80,218.91 L467.02,219.89 L467.24,220.87 L467.45,221.85 L467.67,222.83 L467.89,223.82 L468.10,224.80 L468.32,225.78 L468.53,226.76 L468.75,227.74 L468.97,228.72 L469.18,229.70 L469.40,230.68 L469.61,231.66 L469.83,232.65 L470.04,233.63 L470.26,234.61 L470.47,235.59 L470.69,236.57 L470.90,237.55 L471.12,238.53 L471.34,239.51 L471.55,240.49 L471.77,241.47 L471.99,242.45 L472.20,243.43 L472.42,244.41 L472.64,245.39 L472.86,246.37 L473.08,247.35 L473.30,248.33 L473.52,249.31 L473.74,250.29 L473.96,251.27 L474.19,252.24 L474.41,253.22 L474.64,254.20 L474.86,255.18 L475.09,256.15 L475.32,257.13 L475.55,258.10 L475.77,259.08 L476.01,260.06 L476.24,261.03 L476.47,262.00 L476.70,262.98 L476.94,263.95 L477.18,264.93 L477.41,265.90 L477.65,266.87 L477.89,267.84 L478.14,268.81 L478.38,269.78 L478.62,270.75 L478.87,271.72 L479.12,272.69 L479.37,273.66 L479.62,274.63 L479.87,275.60 L480.12,276.56 L480.38,277.53 L480.64,278.49 L480.90,279.46 L481.16,280.42 L481.42,281.39 L481.69,282.35 L481.96,283.31 L482.23,284.27 L482.50,285.23 L482.77,286.19 L483.05,287.15 L483.32,288.11 L483.60,289.07 L483.89,290.02 L484.17,290.98 L484.46,291.93 L484.75,292.89 L485.04,293.84 L485.33,294.79 L485.63,295.75 L485.93,296.70 L486.23,297.65 L486.53,298.60 L486.84,299.54 L487.15,300.49 L487.46,301.44 L487.77,302.38 L488.09,303.33 L488.41,304.27 L488.73,305.21 L489.06,306.15 L489.39,307.09 L489.72,308.03 L490.05,308.97 L490.39,309.91 L490.73,310.84 L491.08,311.78 L491.42,312.71 L491.77,313.65 L492.13,314.58 L492.48,315.51 L492.84,316.44 L493.20,317.37 L493.57,318.29 L493.94,319.22 L494.31,320.14 L494.69,321.07 L495.07,321.99 L495.45,322.91 L495.84,323.83 L496.23,324.75 L496.63,325.66 L497.02,326.58 L497.43,327.49 L497.83,328.41 L498.24,329.32 L498.65,330.23 L499.07,331.14 L499.49,332.05 L499.92,332.95 L500.35,333.86 L500.78,334.76 L501.22,335.66 L501.66,336.56 L502.10,337.46 L502.55,338.36 L503.01,339.26 L503.46,340.15 L503.93,341.04 L504.39,341.94 L504.86,342.83 L505.34,343.71 L505.82,344.60 L506.30,345.49 L506.79,346.37 L507.29,347.25 L507.78,348.13 L508.29,349.00" stroke="#00d400"/>
<path d="M249.47,348.92 L250.44,348.67 L251.40,348.41 L252.37,348.14 L253.33,347.87 L254.29,347.59 L255.25,347.30 L256.20,347.00 L257.16,346.69 L258.11,346.38 L259.05,346.06 L260.00,345.74 L260.94,345.40 L261.88,345.06 L262.82,344.71 L263.76,344.35 L264.69,343.99 L265.62,343.62 L266.54,343.24 L267.47,342.86 L268.39,342.47 L269.31,342.07 L270.22,341.66 L271.13,341.25 L272.04,340.83 L272.95,340.41 L273.85,339.98 L274.75,339.54 L275.65,339.09 L276.55,338.64 L277.44,338.18 L278.32,337.72 L279.21,337.24 L280.09,336.77 L280.97,336.28 L281.84,335.79 L282.71,335.30 L283.58,334.80 L284.45,334.29 L285.31,333.77 L286.17,333.25 L287.02,332.73 L287.87,332.19 L288.72,331.66 L289.56,331.11 L290.40,330.56 L291.24,330.01 L292.07,329.45 L292.90,328.88 L293.72,328.31 L294.54,327.73 L295.36,327.15 L296.17,326.56 L296.98,325.97 L297.79,325.37 L298.59,324.76 L299.38,324.16 L300.18,323.54 L300.97,322.92 L301.75,322.30 L302.53,321.67 L303.31,321.03 L304.08,320.39 L304.85,319.75 L305.61,319.10 L306.37,318.45 L307.13,317.79 L307.88,317.13 L308.62,316.46 L309.36,315.79 L310.10,315.11 L310.83,314.43 L311.56,313.75 L312.28,313.06 L313.00,312.36 L313.72,311.66 L314.43,310.96 L315.13,310.26 L315.83,309.55 L316.53,308.83 L317.22,308.11 L317.90,307.39 L318.58,306.66 L319.26,305.93 L319.93,305.20 L320.59,304.46 L321.25,303.72 L321.91,302.98 L322.56,302.23 L323.21,301.48 L323.85,300.72 L324.49,299.96 L325.12,299.20 L325.75,298.43 L326.37,297.66 L326.99,296.89 L327.61,296.11 L328.22,295.33 L328.83,294.55 L329.43,293.76 L330.03,292.97 L330.62,292.18 L331.21,291.38 L331.80,290.58 L332.38,289.78 L332.95,288.97 L333.53,288.16 L334.10,287.35 L334.66,286.54 L335.23,285.72 L335.78,284.90 L336.34,284.08 L336.89,283.25 L337.44,282.42 L337.98,281.59 L338.52,280.76 L339.05,279.92 L339.59,279.08 L340.11,278.24 L340.64,277.39 L341.16,276.55 L341.68,275.70 L342.19,274.84 L342.71,273.99 L343.21,273.13 L343.72,272.27 L344.22,271.41 L344.72,270.55 L345.22,269.68 L345.71,268.81 L346.20,267.94 L346.68,267.07 L347.17,266.20 L347.65,265.32 L348.12,264.44 L348.60,263.56 L349.07,262.68 L349.54,261.79 L350.01,260.91 L350.47,260.02 L350.93,259.13 L351.39,258.23 L351.84,257.34 L352.30,256.45 L352.75,255.55 L353.20,254.65 L353.64,253.75 L354.08,252.85 L354.53,251.94 L354.96,251.04 L355.40,250.13 L355.83,249.22 L356.27,248.32 L356.70,247.40 L357.12,246.49 L357.55,245.58 L357.97,244.67 L358.39,243.75 L358.81,242.83 L359.23,241.91 L359.65,241.00 L360.06,240.08 L360.47,239.15 L360.88,238.23 L361.29,237.31 L361.70,236.39 L362.10,235.46 L362.50,234.54 L362.91,233.61 L363.31,232.68 L363.71,231.75 L364.10,230.82 L364.50,229.90 L364.89,228.97 L365.29,228.03 L365.68,227.10 L366.07,226.17 L366.46,225.24 L366.85,224.31 L367.23,223.37 L367.62,222.44 L368.00,221.51 L368.39,220.57 L368.77,219.64 L369.15,218.70 L369.53,217.77 L369.91,216.83 L370.29,215.90 L370.67,214.96 L371.05,214.03 L371.42,213.09 L371.80,212.16 L372.17,211.22 L372.55,210.29 L372.92,209.35 L373.30,208.42 L373.67,207.48 L374.04,206.55 L374.41,205.61 L374.79,204.68 L375.16,203.74 L375.53,202.81 L375.90,201.88 L376.27,200.94 L376.64,200.01 L377.01,199.08 L377.38,198.15 L377.75,197.22 L378.12,196.29 L378.49,195.36 L378.86,194.43 L379.23,193.50 L379.60,192.58 L379.98,191.65 L380.35,190.72 L380.72,189.80 L381.09,188.88 L381.46,187.95 L381.83,187.03 L382.20,186.11 L382.58,185.19 L382.95,184.27 L383.32,183.35 L383.70,182.44 L384.07,181.52 L384.45,180.61 L384.83,179.70 L385.20,178.78 L385.58,177.87 L385.96,176.96 L386.34,176.05 L386.71,175.14 L387.09,174.23 L387.47,173.32 L387.85,172.42 L388.23,171.51 L388.61,170.60 L388.99,169.70 L389.38,168.79 L389.76,167.89 L390.14,166.98 L390.52,166.08 L390.91,165.17 L391.29,164.26 L391.67,163.36 L392.06,162.45 L392.44,161.55 L392.83,160.64 L393.21,159.74 L393.60,158.83 L393.98,157.92 L394.37,157.02 L394.75,156.11 L395.14,155.20 L395.53,154.29 L395.91,153.38 L396.30,152.47 L396.69,151.56 L397.07,150.65 L397.46,149.74 L397.85,148.83 L398.24,147.91 L398.62,147.00 L399.01,146.08 L399.40,145.16 L399.79,144.24 L400.18,143.32 L400.57,142.40 L400.95,141.48 L401.34,140.55 L401.73,139.63 L402.12,138.70 L402.51,137.77 L402.90,136.85 L403.30,135.92 L403.70,134.99 L404.10,134.07 L404.50,133.14 L404.91,132.22 L405.33,131.30 L405.74,130.38 L406.17,129.46 L406.60,128.55 L407.04,127.64 L407.48,126.73 L407.94,125.83 L408.40,124.93 L408.87,124.04 L409.35,123.16 L409.84,122.28 L410.34,121.40 L410.85,120.53 L411.38,119.67 L411.91,118.82 L412.46,117.97 L413.02,117.13 L413.59,116.30 L414.18,115.48 L414.78,114.66 L415.40,113.86 L416.03,113.07 L416.68,112.28 L417.35,111.51 L418.03,110.75 L418.73,110.00 L419.45,109.26 L420.19,108.53 L420.94,107.84 L421.72,107.18 L422.52,106.57 L423.34,106.02 L424.19,105.54 L425.05,105.14 L425.95,104.84 L426.86,104.63 L427.81,104.54 L428.77,104.57 L429.73,104.70 L430.67,104.94 L431.58,105.28 L432.47,105.71 L433.31,106.22 L434.13,106.81 L434.92,107.46 L435.67,108.16 L436.40,108.90 L437.10,109.67 L437.77,110.47 L438.42,111.27 L439.04,112.08 L439.63,112.91 L440.21,113.75 L440.76,114.59 L441.29,115.45 L441.80,116.31 L442.29,117.18 L442.76,118.06 L443.22,118.95 L443.66,119.85 L444.09,120.75 L444.51,121.65 L444.91,122.56 L445.30,123.48 L445.69,124.40 L446.06,125.32 L446.43,126.25 L446.79,127.18 L447.14,128.11 L447.50,129.04 L447.84,129.98 L448.19,130.91 L448.53,131.85 L448.87,132.78 L449.21,133.72 L449.55,134.66 L449.88,135.60 L450.21,136.54 L450.54,137.48 L450.87,138.42 L451.19,139.36 L451.51,140.30 L451.83,141.25 L452.14,142.19 L452.46,143.13 L452.77,144.08 L453.08,145.03 L453.39,145.97 L453.69,146.92 L454.00,147.87 L454.30,148.82 L454.60,149.77 L454.89,150.72 L455.19,151.67 L455.48,152.63 L455.77,153.58 L456.06,154.53 L456.34,155.49 L456.63,156.44 L456.91,157.40 L457.19,158.35 L457.47,159.31 L457.75,160.27 L458.02,161.22 L458.30,162.18 L458.57,163.14 L458.84,164.10 L459.11,165.06 L459.37,166.02 L459.64,166.98 L459.90,167.95 L460.16,168.91 L460.42,169.87 L460.68,170.84 L460.94,171.80 L461.19,172.77 L461.45,173.73 L461.70,174.70 L461.95,175.66 L462.20,176.63 L462.45,177.60 L462.70,178.56 L462.94,179.53 L463.19,180.50 L463.43,181.47 L463.67,182.44 L463.91,183.41 L464.15,184.38 L464.39,185.35 L464.62,186.32 L464.86,187.29 L465.10,188.26 L465.33,189.24 L465.56,190.21 L465.79,191.18 L466.02,192.15 L466.25,193.13 L466.48,194.10 L466.71,195.08 L466.93,196.05 L467.16,197.03 L467.38,198.00 L467.61,198.98 L467.83,199.95 L468.05,200.93 L468.28,201.90 L468.50,202.88 L468.72,203.86 L468.94,204.84 L469.15,205.81 L469.37,206.79 L469.59,207.77 L469.81,208.75 L470.02,209.72 L470.24,210.70 L470.45,211.68 L470.67,212.66 L470.88,213.64 L471.10,214.62 L471.31,215.60 L471.52,216.58 L471.74,217.56 L471.95,218.54 L472.16,219.52 L472.37,220.50 L472.58,221.48 L472.80,222.46 L473.01,223.44 L473.22,224.42 L473.43,225.40 L473.64,226.38 L473.85,227.36 L474.06,228.34 L474.27,229.32 L474.48,230.30 L474.69,231.29 L474.90,232.27 L475.11,233.25 L475.32,234.23 L475.53,235.21 L475.74,236.19 L475.95,237.17 L476.16,238.15 L476.38,239.13 L476.59,240.11 L476.80,241.10 L477.01,242.08 L477.22,243.06 L477.43,244.04 L477.65,245.02 L477.86,246.00 L478.07,246.98 L478.29,247.96 L478.50,248.94 L478.72,249.92 L478.93,250.90 L479.15,251.88 L479.36,252.86 L479.58,253.84 L479.80,254.82 L480.02,255.80 L480.24,256.78 L480.46,257.76 L480.68,258.74 L480.90,259.71 L481.12,260.69 L481.34,261.67 L481.57,262.65 L481.79,263.62 L482.02,264.60 L482.25,265.58 L482.48,266.55 L482.71,267.53 L482.94,268.50 L483.17,269.48 L483.40,270.45 L483.64,271.43 L483.87,272.40 L484.11,273.37 L484.35,274.35 L484.59,275.32 L484.83,276.29 L485.08,277.26 L485.32,278.23 L485.57,279.20 L485.82,280.17 L486.07,281.14 L486.32,282.10 L486.58,283.07 L486.84,284.04 L487.09,285.00 L487.35,285.97 L487.62,286.93 L487.88,287.90 L488.15,288.86 L488.42,289.82 L488.69,290.78 L488.96,291.74 L489.24,292.70 L489.51,293.66 L489.79,294.62 L490.08,295.57 L490.36,296.53 L490.65,297.49 L490.94,298.44 L491.23,299.39 L491.53,300.35 L491.82,301.30 L492.12,302.25 L492.43,303.20 L492.73,304.14 L493.04,305.09 L493.35,306.04 L493.67,306.98 L493.99,307.93 L494.31,308.87 L494.63,309.81 L494.96,310.75 L495.29,311.69 L495.62,312.63 L495.95,313.57 L496.29,314.50 L496.64,315.44 L496.98,316.37 L497.33,317.30 L497.68,318.24 L498.04,319.16 L498.40,320.09 L498.76,321.02 L499.13,321.95 L499.50,322.87 L499.87,323.79 L500.25,324.71 L500.63,325.64 L501.01,326.55 L501.40,327.47 L501.80,328.39 L502.19,329.30 L502.59,330.21 L503.00,331.13 L503.41,332.04 L503.82,332.94 L504.23,333.85 L504.66,334.76 L505.08,335.66 L505.51,336.56 L505.94,337.46 L506.38,338.36 L506.82,339.26 L507.27,340.15 L507.72,341.05 L508.17,341.94 L508.63,342.83 L509.10,343.72 L509.57,344.61 L510.04,345.49 L510.52,346.37 L511.00,347.26 L511.49,348.14 L511.98,349.00" stroke="#00d400" stroke-dasharray="1.6 2.56" stroke-dashoffset="2.74"/>
<path d="M111.50,349.00 L112.48,348.80 L113.47,348.60 L114.45,348.39 L115.43,348.17 L116.41,347.96 L117.39,347.75 L118.37,347.53 L119.35,347.31 L120.33,347.09 L121.31,346.87 L122.29,346.65 L123.27,346.43 L124.24,346.20 L125.22,345.98 L126.19,345.75 L127.17,345.52 L128.15,345.29 L129.12,345.05 L130.09,344.82 L131.07,344.58 L132.04,344.34 L133.01,344.11 L133.99,343.86 L134.96,343.62 L135.93,343.38 L136.90,343.13 L137.87,342.88 L138.84,342.64 L139.81,342.38 L140.77,342.13 L141.74,341.88 L142.71,341.62 L143.68,341.37 L144.64,341.11 L145.61,340.85 L146.57,340.58 L147.54,340.32 L148.50,340.05 L149.46,339.78 L150.43,339.52 L151.39,339.24 L152.35,338.97 L153.31,338.70 L154.27,338.42 L155.23,338.14 L156.19,337.86 L157.15,337.58 L158.11,337.30 L159.07,337.01 L160.03,336.73 L160.98,336.44 L161.94,336.15 L162.90,335.85 L163.85,335.56 L164.81,335.26 L165.76,334.97 L166.71,334.67 L167.67,334.37 L168.62,334.06 L169.57,333.76 L170.52,333.45 L171.47,333.14 L172.42,332.83 L173.37,332.52 L174.32,332.20 L175.27,331.89 L176.22,331.57 L177.17,331.25 L178.11,330.93 L179.06,330.60 L180.01,330.28 L180.95,329.95 L181.90,329.62 L182.84,329.29 L183.78,328.96 L184.73,328.62 L185.67,328.28 L186.61,327.94 L187.55,327.60 L188.49,327.26 L189.43,326.91 L190.37,326.57 L191.31,326.22 L192.25,325.86 L193.19,325.51 L194.12,325.16 L195.06,324.80 L195.99,324.44 L196.93,324.08 L197.86,323.71 L198.80,323.35 L199.73,322.98 L200.67,322.61 L201.60,322.24 L202.53,321.87 L203.46,321.49 L204.39,321.11 L205.32,320.73 L206.25,320.35 L207.18,319.96 L208.11,319.58 L209.03,319.19 L209.96,318.80 L210.88,318.40 L211.81,318.01 L212.73,317.61 L213.65,317.21 L214.57,316.81 L215.50,316.41 L216.42,316.00 L217.33,315.59 L218.25,315.18 L219.17,314.77 L220.08,314.35 L221.00,313.93 L221.91,313.51 L222.83,313.09 L223.74,312.67 L224.65,312.24 L225.56,311.81 L226.47,311.38 L227.37,310.95 L228.28,310.51 L229.18,310.07 L230.09,309.63 L230.99,309.19 L231.89,308.74 L232.79,308.29 L233.69,307.84 L234.58,307.39 L235.48,306.93 L236.37,306.47 L237.26,306.01 L238.16,305.55 L239.04,305.08 L239.93,304.61 L240.82,304.14 L241.70,303.67 L242.59,303.19 L243.47,302.72 L244.35,302.23 L245.23,301.75 L246.11,301.26 L246.98,300.78 L247.86,300.28 L248.73,299.79 L249.60,299.29 L250.47,298.79 L251.33,298.29 L252.20,297.79 L253.06,297.28 L253.92,296.77 L254.78,296.26 L255.64,295.74 L256.50,295.22 L257.35,294.70 L258.20,294.18 L259.05,293.65 L259.90,293.13 L260.75,292.59 L261.59,292.06 L262.43,291.52 L263.27,290.98 L264.11,290.44 L264.95,289.89 L265.78,289.34 L266.61,288.79 L267.44,288.24 L268.27,287.68 L269.10,287.12 L269.92,286.56 L270.74,285.99 L271.56,285.42 L272.37,284.85 L273.19,284.28 L274.00,283.70 L274.81,283.12 L275.62,282.54 L276.42,281.95 L277.23,281.36 L278.03,280.77 L278.83,280.18 L279.63,279.59 L280.42,278.99 L281.22,278.39 L282.01,277.79 L282.80,277.18 L283.59,276.57 L284.38,275.96 L285.16,275.35 L285.95,274.74 L286.73,274.12 L287.51,273.51 L288.29,272.88 L289.07,272.26 L289.85,271.64 L290.62,271.01 L291.39,270.38 L292.17,269.75 L292.94,269.12 L293.71,268.49 L294.48,267.85 L295.24,267.22 L296.01,266.58 L296.77,265.94 L297.54,265.30 L298.30,264.65 L299.06,264.01 L299.82,263.36 L300.58,262.71 L301.34,262.06 L302.10,261.41 L302.85,260.76 L303.61,260.11 L304.36,259.45 L305.12,258.80 L305.87,258.14 L306.62,257.48 L307.37,256.82 L308.13,256.16 L308.88,255.50 L309.63,254.84 L310.38,254.17 L311.12,253.51 L311.87,252.84 L312.62,252.18 L313.37,251.51 L314.11,250.84 L314.86,250.17 L315.61,249.50 L316.35,248.83 L317.10,248.16 L317.84,247.49 L318.59,246.82 L319.33,246.15 L320.07,245.48 L320.82,244.80 L321.56,244.13 L322.31,243.46 L323.05,242.78 L323.80,242.11 L324.54,241.43 L325.28,240.76 L326.03,240.08 L326.77,239.41 L327.52,238.73 L328.26,238.06 L329.01,237.38 L329.75,236.71 L330.50,236.03 L331.24,235.36 L331.99,234.68 L332.74,234.01 L333.48,233.33 L334.23,232.66 L334.98,231.99 L335.73,231.31 L336.47,230.64 L337.22,229.97 L337.97,229.29 L338.72,228.62 L339.48,227.95 L340.23,227.28 L340.98,226.61 L341.74,225.94 L342.49,225.27 L343.25,224.61 L344.00,223.94 L344.76,223.28 L345.53,222.62 L346.29,221.96 L347.06,221.31 L347.82,220.66 L348.60,220.01 L349.37,219.37 L350.15,218.73 L350.93,218.10 L351.71,217.47 L352.50,216.85 L353.29,216.23 L354.09,215.62 L354.89,215.01 L355.69,214.41 L356.50,213.82 L357.31,213.24 L358.13,212.66 L358.96,212.09 L359.78,211.53 L360.62,210.98 L361.46,210.43 L362.31,209.90 L363.16,209.37 L364.02,208.86 L364.89,208.35 L365.76,207.85 L366.64,207.37 L367.53,206.89 L368.42,206.43 L369.32,205.98 L370.23,205.54 L371.15,205.11 L372.07,204.70 L373.01,204.30 L373.94,203.91 L374.89,203.55 L375.84,203.19 L376.79,202.86 L377.75,202.54 L378.72,202.24 L379.69,201.96 L380.66,201.71 L381.63,201.47 L382.61,201.26 L383.59,201.07 L384.57,200.91 L385.55,200.77 L386.53,200.65 L387.51,200.57 L388.49,200.51 L389.47,200.48 L390.45,200.48 L391.43,200.51 L392.40,200.57 L393.38,200.66 L394.35,200.78 L395.31,200.92 L396.28,201.10 L397.24,201.30 L398.20,201.52 L399.15,201.77 L400.10,202.05 L401.04,202.35 L401.97,202.68 L402.91,203.02 L403.83,203.39 L404.75,203.79 L405.66,204.20 L406.57,204.64 L407.46,205.09 L408.36,205.57 L409.24,206.06 L410.11,206.57 L410.98,207.10 L411.83,207.65 L412.68,208.22 L413.51,208.80 L414.34,209.40 L415.16,210.01 L415.96,210.64 L416.76,211.28 L417.54,211.93 L418.31,212.60 L419.07,213.28 L419.82,213.97 L420.55,214.67 L421.27,215.39 L421.98,216.11 L422.68,216.84 L423.37,217.59 L424.04,218.34 L424.71,219.10 L425.36,219.87 L426.01,220.64 L426.65,221.43 L427.27,222.22 L427.89,223.02 L428.50,223.82 L429.10,224.63 L429.70,225.45 L430.29,226.27 L430.87,227.09 L431.45,227.92 L432.02,228.76 L432.58,229.59 L433.14,230.43 L433.70,231.28 L434.25,232.12 L434.80,232.97 L435.35,233.82 L435.89,234.67 L436.43,235.52 L436.97,236.37 L437.51,237.22 L438.04,238.08 L438.57,238.93 L439.10,239.78 L439.63,240.64 L440.16,241.49 L440.68,242.35 L441.21,243.20 L441.73,244.06 L442.25,244.92 L442.77,245.77 L443.28,246.63 L443.80,247.49 L444.31,248.35 L444.82,249.21 L445.33,250.07 L445.84,250.93 L446.34,251.79 L446.85,252.65 L447.35,253.52 L447.86,254.38 L448.36,255.24 L448.86,256.10 L449.36,256.97 L449.85,257.83 L450.35,258.70 L450.85,259.56 L451.34,260.43 L451.83,261.29 L452.32,262.16 L452.82,263.03 L453.31,263.89 L453.79,264.76 L454.28,265.63 L454.77,266.50 L455.26,267.37 L455.74,268.24 L456.23,269.11 L456.71,269.98 L457.20,270.85 L457.68,271.72 L458.16,272.59 L458.64,273.46 L459.13,274.33 L459.61,275.20 L460.09,276.08 L460.57,276.95 L461.05,277.82 L461.53,278.69 L462.01,279.57 L462.48,280.44 L462.96,281.32 L463.44,282.19 L463.92,283.06 L464.40,283.94 L464.88,284.81 L465.36,285.69 L465.83,286.57 L466.31,287.44 L466.79,288.32 L467.27,289.19 L467.75,290.07 L468.23,290.95 L468.70,291.83 L469.18,292.70 L469.66,293.58 L470.14,294.46 L470.62,295.34 L471.10,296.21 L471.58,297.09 L472.07,297.97 L472.55,298.85 L473.03,299.73 L473.51,300.61 L474.00,301.49 L474.48,302.37 L474.97,303.25 L475.45,304.12 L475.94,305.00 L476.43,305.88 L476.92,306.76 L477.41,307.64 L477.90,308.52 L478.39,309.40 L478.89,310.27 L479.39,311.15 L479.89,312.02 L480.39,312.89 L480.89,313.77 L481.40,314.63 L481.91,315.50 L482.42,316.37 L482.94,317.23 L483.46,318.09 L483.98,318.95 L484.50,319.81 L485.03,320.66 L485.57,321.51 L486.10,322.36 L486.64,323.21 L487.19,324.05 L487.74,324.88 L488.29,325.72 L488.85,326.55 L489.42,327.38 L489.99,328.20 L490.56,329.02 L491.14,329.83 L491.73,330.64 L492.32,331.45 L492.91,332.25 L493.52,333.04 L494.13,333.83 L494.74,334.62 L495.36,335.40 L495.99,336.17 L496.63,336.94 L497.27,337.70 L497.92,338.46 L498.57,339.21 L499.24,339.96 L499.91,340.69 L500.59,341.43 L501.27,342.15 L501.97,342.87 L502.67,343.58 L503.38,344.28 L504.10,344.98 L504.83,345.67 L505.56,346.35 L506.31,347.03 L507.06,347.69 L507.83,348.35 L508.60,349.00" stroke="#0038ff"/>
<path d="M157.01,348.97 L157.97,348.78 L158.93,348.58 L159.90,348.39 L160.86,348.19 L161.82,347.99 L162.79,347.79 L163.75,347.59 L164.72,347.38 L165.69,347.17 L166.65,346.97 L167.62,346.76 L168.59,346.54 L169.56,346.33 L170.53,346.11 L171.49,345.90 L172.46,345.68 L173.43,345.45 L174.40,345.23 L175.37,345.00 L176.34,344.78 L177.31,344.55 L178.28,344.32 L179.26,344.08 L180.23,343.84 L181.20,343.61 L182.17,343.37 L183.14,343.12 L184.11,342.88 L185.08,342.63 L186.05,342.38 L187.02,342.13 L187.99,341.88 L188.96,341.62 L189.93,341.36 L190.90,341.10 L191.87,340.84 L192.84,340.58 L193.81,340.31 L194.78,340.04 L195.75,339.77 L196.72,339.49 L197.69,339.21 L198.65,338.93 L199.62,338.65 L200.59,338.37 L201.55,338.08 L202.52,337.79 L203.48,337.50 L204.44,337.21 L205.41,336.91 L206.37,336.61 L207.33,336.31 L208.29,336.00 L209.25,335.69 L210.21,335.38 L211.17,335.07 L212.13,334.76 L213.09,334.44 L214.04,334.12 L215.00,333.79 L215.95,333.47 L216.90,333.14 L217.86,332.80 L218.81,332.47 L219.76,332.13 L220.71,331.79 L221.65,331.45 L222.60,331.10 L223.55,330.75 L224.49,330.40 L225.43,330.04 L226.37,329.69 L227.31,329.32 L228.25,328.96 L229.19,328.59 L230.13,328.22 L231.06,327.85 L232.00,327.47 L232.93,327.09 L233.86,326.71 L234.79,326.33 L235.71,325.94 L236.64,325.54 L237.56,325.15 L238.49,324.75 L239.41,324.35 L240.32,323.94 L241.24,323.54 L242.16,323.13 L243.07,322.71 L243.98,322.29 L244.89,321.87 L245.80,321.45 L246.71,321.02 L247.61,320.59 L248.51,320.15 L249.41,319.71 L250.31,319.27 L251.21,318.83 L252.10,318.38 L252.99,317.93 L253.88,317.47 L254.77,317.01 L255.66,316.55 L256.54,316.08 L257.42,315.61 L258.30,315.14 L259.17,314.66 L260.05,314.18 L260.92,313.70 L261.79,313.21 L262.66,312.72 L263.52,312.22 L264.38,311.72 L265.24,311.22 L266.10,310.72 L266.95,310.21 L267.80,309.69 L268.65,309.17 L269.50,308.65 L270.34,308.13 L271.18,307.60 L272.02,307.06 L272.86,306.53 L273.69,305.99 L274.52,305.44 L275.35,304.90 L276.18,304.35 L277.00,303.79 L277.82,303.23 L278.64,302.67 L279.46,302.11 L280.27,301.54 L281.08,300.97 L281.89,300.39 L282.70,299.82 L283.51,299.24 L284.31,298.65 L285.11,298.07 L285.91,297.48 L286.70,296.88 L287.50,296.29 L288.29,295.69 L289.08,295.08 L289.87,294.48 L290.66,293.87 L291.44,293.26 L292.22,292.65 L293.00,292.03 L293.78,291.41 L294.56,290.79 L295.33,290.17 L296.11,289.54 L296.88,288.91 L297.65,288.28 L298.41,287.64 L299.18,287.01 L299.94,286.37 L300.71,285.73 L301.47,285.08 L302.23,284.44 L302.98,283.79 L303.74,283.14 L304.49,282.48 L305.25,281.83 L306.00,281.17 L306.75,280.51 L307.50,279.85 L308.24,279.19 L308.99,278.52 L309.73,277.85 L310.48,277.18 L311.22,276.51 L311.96,275.84 L312.70,275.16 L313.43,274.49 L314.17,273.81 L314.90,273.13 L315.64,272.45 L316.37,271.76 L317.10,271.08 L317.83,270.39 L318.56,269.70 L319.29,269.01 L320.01,268.32 L320.74,267.63 L321.47,266.93 L322.19,266.24 L322.91,265.54 L323.63,264.84 L324.35,264.14 L325.07,263.44 L325.79,262.74 L326.51,262.04 L327.23,261.34 L327.95,260.63 L328.66,259.93 L329.38,259.22 L330.09,258.51 L330.81,257.80 L331.52,257.09 L332.23,256.38 L332.94,255.67 L333.65,254.96 L334.36,254.25 L335.07,253.53 L335.78,252.82 L336.49,252.10 L337.20,251.39 L337.91,250.67 L338.62,249.96 L339.32,249.24 L340.03,248.52 L340.74,247.80 L341.44,247.09 L342.15,246.37 L342.85,245.65 L343.56,244.93 L344.26,244.21 L344.97,243.49 L345.67,242.77 L346.38,242.05 L347.08,241.33 L347.78,240.61 L348.49,239.89 L349.19,239.17 L349.90,238.45 L350.60,237.73 L351.30,237.02 L352.01,236.30 L352.71,235.58 L353.41,234.86 L354.12,234.14 L354.82,233.42 L355.53,232.70 L356.23,231.99 L356.93,231.27 L357.64,230.55 L358.34,229.84 L359.05,229.12 L359.75,228.40 L360.46,227.69 L361.17,226.98 L361.87,226.26 L362.58,225.55 L363.29,224.84 L363.99,224.13 L364.70,223.42 L365.41,222.71 L366.12,222.00 L366.83,221.29 L367.54,220.59 L368.25,219.89 L368.97,219.19 L369.68,218.49 L370.40,217.79 L371.12,217.10 L371.85,216.42 L372.58,215.73 L373.31,215.06 L374.04,214.39 L374.78,213.72 L375.53,213.06 L376.28,212.40 L377.03,211.76 L377.79,211.11 L378.56,210.48 L379.33,209.86 L380.11,209.24 L380.89,208.63 L381.68,208.03 L382.48,207.44 L383.29,206.86 L384.10,206.29 L384.92,205.73 L385.75,205.18 L386.59,204.64 L387.44,204.11 L388.30,203.60 L389.17,203.10 L390.05,202.61 L390.93,202.13 L391.83,201.67 L392.74,201.22 L393.66,200.79 L394.58,200.38 L395.52,199.98 L396.46,199.61 L397.41,199.25 L398.36,198.92 L399.32,198.61 L400.29,198.33 L401.26,198.08 L402.23,197.85 L403.21,197.65 L404.19,197.48 L405.18,197.34 L406.16,197.24 L407.15,197.17 L408.14,197.13 L409.13,197.13 L410.11,197.15 L411.10,197.22 L412.08,197.31 L413.06,197.43 L414.03,197.59 L415.00,197.78 L415.96,197.99 L416.92,198.24 L417.87,198.51 L418.80,198.81 L419.73,199.14 L420.65,199.50 L421.56,199.89 L422.45,200.30 L423.33,200.74 L424.20,201.20 L425.06,201.69 L425.90,202.20 L426.74,202.73 L427.56,203.29 L428.37,203.87 L429.16,204.46 L429.95,205.08 L430.73,205.72 L431.49,206.37 L432.25,207.04 L432.99,207.73 L433.72,208.43 L434.45,209.15 L435.16,209.88 L435.87,210.62 L436.56,211.38 L437.25,212.14 L437.92,212.92 L438.59,213.71 L439.25,214.51 L439.90,215.31 L440.54,216.13 L441.18,216.95 L441.80,217.77 L442.42,218.60 L443.03,219.44 L443.63,220.27 L444.23,221.11 L444.82,221.96 L445.40,222.80 L445.97,223.64 L446.54,224.49 L447.10,225.33 L447.66,226.17 L448.21,227.02 L448.76,227.86 L449.30,228.70 L449.83,229.55 L450.36,230.39 L450.88,231.24 L451.40,232.08 L451.91,232.93 L452.42,233.77 L452.93,234.62 L453.43,235.47 L453.93,236.32 L454.42,237.17 L454.91,238.02 L455.40,238.87 L455.88,239.73 L456.36,240.58 L456.84,241.44 L457.32,242.30 L457.79,243.16 L458.26,244.02 L458.73,244.88 L459.20,245.75 L459.66,246.62 L460.13,247.49 L460.59,248.36 L461.05,249.23 L461.51,250.10 L461.97,250.98 L462.42,251.86 L462.88,252.74 L463.33,253.62 L463.78,254.50 L464.23,255.38 L464.68,256.27 L465.13,257.16 L465.58,258.04 L466.02,258.93 L466.47,259.82 L466.92,260.71 L467.36,261.60 L467.80,262.50 L468.25,263.39 L468.69,264.29 L469.13,265.18 L469.57,266.08 L470.01,266.97 L470.45,267.87 L470.89,268.77 L471.33,269.67 L471.77,270.57 L472.21,271.47 L472.65,272.37 L473.09,273.27 L473.53,274.17 L473.97,275.07 L474.41,275.98 L474.85,276.88 L475.29,277.78 L475.73,278.68 L476.17,279.59 L476.61,280.49 L477.06,281.39 L477.50,282.29 L477.94,283.19 L478.39,284.10 L478.83,285.00 L479.28,285.90 L479.73,286.80 L480.17,287.70 L480.62,288.60 L481.07,289.50 L481.52,290.40 L481.98,291.30 L482.43,292.19 L482.88,293.09 L483.34,293.99 L483.80,294.88 L484.26,295.78 L484.72,296.67 L485.18,297.56 L485.64,298.46 L486.11,299.35 L486.58,300.24 L487.05,301.13 L487.52,302.01 L487.99,302.90 L488.47,303.78 L488.95,304.67 L489.42,305.55 L489.91,306.43 L490.39,307.31 L490.88,308.19 L491.37,309.06 L491.86,309.94 L492.35,310.81 L492.85,311.68 L493.35,312.55 L493.85,313.42 L494.35,314.28 L494.86,315.14 L495.37,316.01 L495.88,316.87 L496.40,317.72 L496.92,318.58 L497.44,319.43 L497.97,320.28 L498.50,321.13 L499.03,321.98 L499.56,322.82 L500.10,323.66 L500.64,324.50 L501.19,325.34 L501.74,326.17 L502.29,327.00 L502.85,327.83 L503.41,328.65 L503.97,329.48 L504.54,330.30 L505.11,331.11 L505.69,331.93 L506.27,332.74 L506.85,333.55 L507.44,334.35 L508.04,335.15 L508.63,335.95 L509.23,336.75 L509.84,337.54 L510.45,338.33 L511.07,339.11 L511.69,339.90 L512.31,340.67 L512.94,341.45 L513.57,342.22 L514.21,342.99 L514.85,343.75 L515.50,344.51 L516.16,345.27 L516.82,346.02 L517.48,346.77 L518.15,347.52 L518.82,348.26 L519.50,348.99" stroke="#0038ff" stroke-dasharray="5.3 4.8 1.6 4.8" stroke-dashoffset="0.38"/>
</g>
<g fill="none" stroke-width="1.0">
<line x1="116.0" y1="38.3" x2="161.6" y2="38.3" stroke="#ff0000"/>
<line x1="116.0" y1="59.8" x2="161.6" y2="59.8" stroke="#ff0000" stroke-dasharray="7 3"/>
<line x1="116.0" y1="81.3" x2="161.6" y2="81.3" stroke="#00d400"/>
<line x1="116.0" y1="103.0" x2="161.6" y2="103.0" stroke="#00d400" stroke-dasharray="1.6 2.56"/>
<line x1="116.0" y1="124.7" x2="161.6" y2="124.7" stroke="#0038ff"/>
<line x1="116.0" y1="146.4" x2="161.6" y2="146.4" stroke="#0038ff" stroke-dasharray="5.3 4.8 1.6 4.9"/>
</g>
<g font-size="18.4px" style="filter:grayscale(1)">
<text x="174.2" y="44.0">|z| = 250 pc, corr.</text>
<text x="174.2" y="66.0">|z| = 250 pc, sAA</text>
<text x="174.2" y="87.7">|z| = 500 pc, corr.</text>
<text x="174.2" y="109.3">|z| = 500 pc, sAA</text>
<text x="174.2" y="130.8">|z| = 1000 pc, corr.</text>
<text x="174.2" y="152.3">|z| = 1000 pc, sAA</text>
</g>
<g font-size="18.5px" style="filter:grayscale(1)">
<text x="103.5" y="370.7" text-anchor="middle">50</text>
<text x="205.0" y="370.7" text-anchor="middle">100</text>
<text x="306.5" y="370.7" text-anchor="middle">150</text>
<text x="408.0" y="370.7" text-anchor="middle">200</text>
<text x="509.5" y="370.7" text-anchor="middle">250</text>
<text x="96.2" y="337.4" text-anchor="end">0.002</text>
<text x="96.2" y="302.7" text-anchor="end">0.004</text>
<text x="96.2" y="268.1" text-anchor="end">0.006</text>
<text x="96.2" y="233.5" text-anchor="end">0.008</text>
<text x="96.2" y="198.8" text-anchor="end">0.01</text>
<text x="96.2" y="164.2" text-anchor="end">0.012</text>
<text x="96.2" y="129.5" text-anchor="end">0.014</text>
<text x="96.2" y="94.9" text-anchor="end">0.016</text>
<text x="96.2" y="60.2" text-anchor="end">0.018</text>
<text x="96.2" y="25.6" text-anchor="end">0.02</text>
</g>
<g style="filter:grayscale(1)">
<text font-size="21.6px" transform="translate(35.4,185) rotate(-90)" text-anchor="middle">density</text>
<text font-size="21.6px" x="296.6" y="396.6">v</text>
<text font-size="14.4px" x="306.4" y="403.1">ϕ</text>
<text font-size="21.6px" x="314.0" y="396.6" textLength="46.2" lengthAdjust="spacing">/kms</text>
<text font-size="13px" y="387.4"><tspan x="361.5">-</tspan><tspan x="364.9">1</tspan></text>
</g>
</svg></body></html>
